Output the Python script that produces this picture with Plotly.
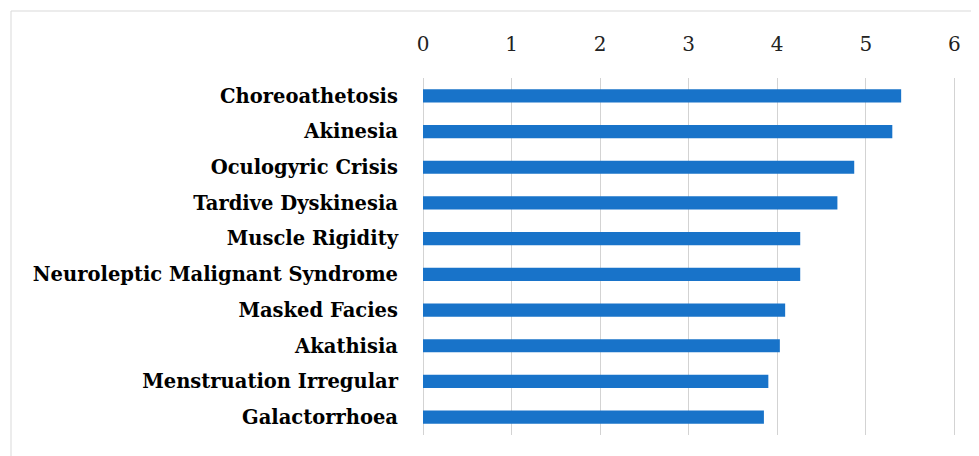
import plotly.graph_objects as go

categories = [
    "Choreoathetosis",
    "Akinesia",
    "Oculogyric Crisis",
    "Tardive Dyskinesia",
    "Muscle Rigidity",
    "Neuroleptic Malignant Syndrome",
    "Masked Facies",
    "Akathisia",
    "Menstruation Irregular",
    "Galactorrhoea",
]
values = [5.40, 5.30, 4.87, 4.68, 4.26, 4.26, 4.09, 4.03, 3.90, 3.85]
x_ticks = [0, 1, 2, 3, 4, 5, 6]

# page body adds an 8px offset; figure is sized so it fits the window
OFF = 8
W, H = 979 - OFF, 456 - OFF
L, T = 423 - OFF, 78 - OFF
R, B = 7, 21
x_max = 6.2

fig = go.Figure(
    go.Bar(
        x=values,
        y=categories,
        orientation="h",
        marker=dict(color="#1873C9", line=dict(width=0)),
        width=0.37,
    )
)

pw = W - L - R
ph = H - T - B
bx, by = 11 - OFF, 11 - OFF
fig.add_shape(
    type="rect",
    xref="paper", yref="paper",
    x0=(bx - L) / pw, x1=(W + 20 - L) / pw,
    y0=(H - B - (H + 20)) / ph, y1=(H - B - by) / ph,
    line=dict(color="#d9d9d9", width=1),
    fillcolor="rgba(0,0,0,0)",
    layer="below",
)

fig.update_layout(
    width=W, height=H,
    margin=dict(l=L, r=R, t=T, b=B),
    plot_bgcolor="white",
    paper_bgcolor="white",
    showlegend=False,
    font=dict(family="DejaVu Serif", color="black"),
    xaxis=dict(
        side="top",
        range=[0, x_max],
        tickvals=x_ticks,
        ticktext=[str(v) for v in x_ticks],
        showgrid=True,
        gridcolor="#d3d3d3",
        gridwidth=1.3,
        zeroline=True,
        zerolinecolor="#d3d3d3",
        zerolinewidth=1.3,
        showline=False,
        ticks="",
        tickfont=dict(size=20, family="DejaVu Serif", color="#222"),
        ticklabelstandoff=22,
    ),
    yaxis=dict(
        categoryorder="array",
        categoryarray=categories,
        autorange="reversed",
        showgrid=False,
        zeroline=False,
        showline=False,
        ticks="",
        tickfont=dict(size=19.5, family="DejaVu Serif", color="black", weight="bold"),
        ticklabelstandoff=24,
    ),
)

fig.write_html("out.html")
